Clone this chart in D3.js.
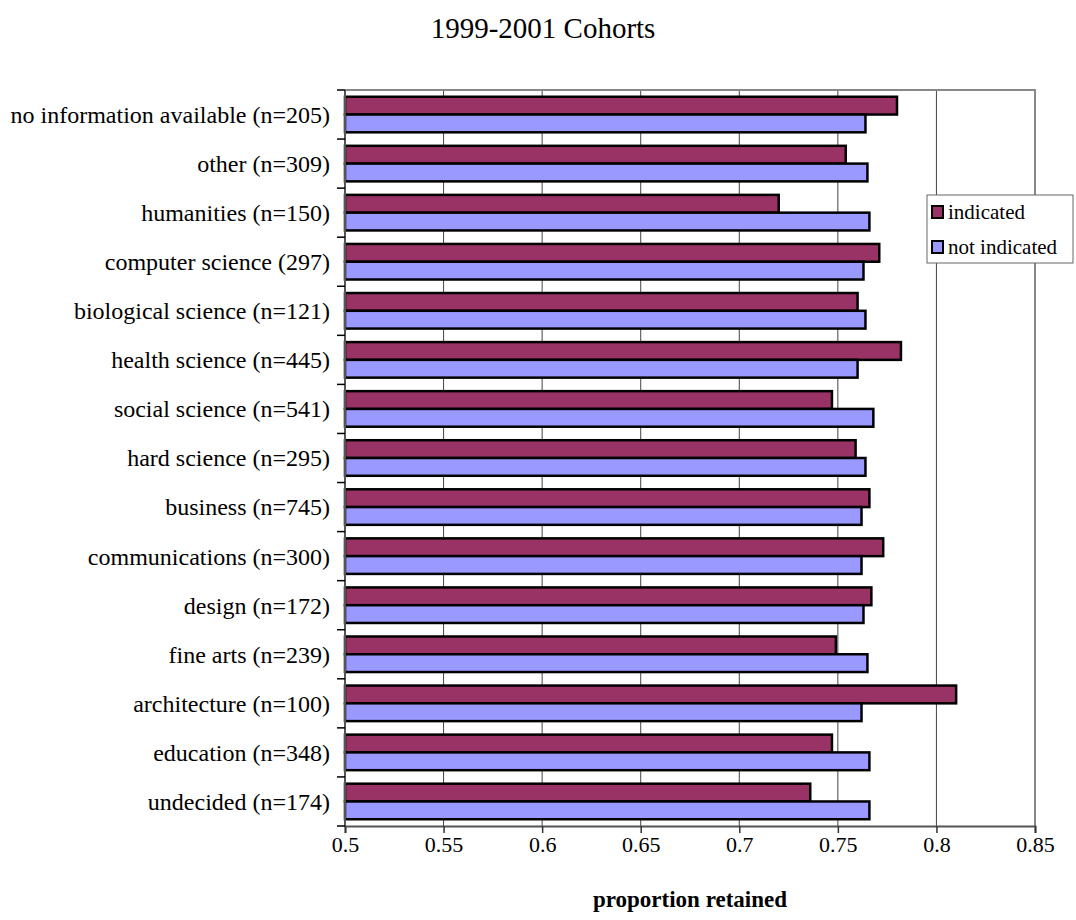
<!DOCTYPE html>
<html>
<head>
<meta charset="utf-8">
<script src="https://cdn.jsdelivr.net/npm/d3@7"></script>
<style>
  html, body { margin: 0; padding: 0; background: #ffffff; }
  svg { display: block; font-family: "Liberation Serif", "Times New Roman", serif; }
</style>
</head>
<body>
<svg id="chart" width="1076" height="920"></svg>
<script>
// Major fields listed top to bottom
const categories = [
  "no information available (n=205)",
  "other (n=309)",
  "humanities (n=150)",
  "computer science (297)",
  "biological science (n=121)",
  "health science (n=445)",
  "social science (n=541)",
  "hard science (n=295)",
  "business (n=745)",
  "communications (n=300)",
  "design (n=172)",
  "fine arts (n=239)",
  "architecture (n=100)",
  "education (n=348)",
  "undecided (n=174)"
];

// Proportion retained, students who indicated the field
const indicated = [0.780, 0.754, 0.720, 0.771, 0.760, 0.782, 0.747, 0.759, 0.766, 0.773, 0.767, 0.749, 0.810, 0.747, 0.736];
// Proportion retained, students who did not indicate the field
const notIndicated = [0.764, 0.765, 0.766, 0.763, 0.764, 0.760, 0.768, 0.764, 0.762, 0.762, 0.763, 0.765, 0.762, 0.766, 0.766];

const xTicks = [0.5, 0.55, 0.6, 0.65, 0.7, 0.75, 0.8, 0.85];
const seriesNames = ["indicated", "not indicated"];
const seriesColors = ["#993366", "#9999ff"];

const svg = d3.select("#chart");
const plot = { left: 345, right: 1035, top: 90, bottom: 826 };

const x = d3.scaleLinear().domain([0.5, 0.85]).range([plot.left, plot.right]);
const y = d3.scaleBand().domain(categories).range([plot.top, plot.bottom]);
const inner = d3.scaleBand().domain(seriesNames)
  .range([0, y.bandwidth()]).paddingOuter(0.38).paddingInner(0);

// Title
svg.append("text")
  .attr("x", 543).attr("y", 38)
  .attr("text-anchor", "middle")
  .attr("font-size", 29)
  .text("1999-2001 Cohorts");

// Vertical gridlines
svg.append("g").selectAll("line")
  .data(xTicks.slice(1, -1))
  .join("line")
  .attr("x1", d => x(d)).attr("x2", d => x(d))
  .attr("y1", plot.top).attr("y2", plot.bottom)
  .attr("stroke", "#444").attr("stroke-width", 1);

// Plot frame (top and right)
svg.append("path")
  .attr("d", `M${plot.left},${plot.top}H${plot.right}V${plot.bottom}`)
  .attr("fill", "none").attr("stroke", "#888").attr("stroke-width", 2);

// Bars
const rows = categories.map((c, i) => ({ c, vals: [indicated[i], notIndicated[i]] }));
const groups = svg.append("g").selectAll("g")
  .data(rows)
  .join("g")
  .attr("transform", d => `translate(0,${y(d.c)})`);

groups.selectAll("rect")
  .data(d => d.vals.map((v, k) => ({ v, k })))
  .join("rect")
  .attr("x", x(0.5))
  .attr("y", d => inner(seriesNames[d.k]))
  .attr("width", d => x(d.v) - x(0.5))
  .attr("height", inner.bandwidth())
  .attr("fill", d => seriesColors[d.k])
  .attr("stroke", "#000")
  .attr("stroke-width", 2.5);

// Bottom axis
const xAxis = svg.append("g")
  .attr("transform", `translate(0,${plot.bottom})`)
  .call(d3.axisBottom(x).tickValues(xTicks).tickFormat(d3.format("")).tickSize(7).tickPadding(3));
xAxis.select(".domain").attr("stroke", "#555").attr("stroke-width", 2);
xAxis.selectAll(".tick line").attr("stroke", "#333").attr("stroke-width", 1.5);
xAxis.selectAll(".tick text")
  .attr("font-family", "Liberation Serif, Times New Roman, serif")
  .attr("font-size", 22).attr("fill", "#000");

// Left axis: ticks sit at category boundaries
const yAxisG = svg.append("g");
yAxisG.append("line")
  .attr("x1", plot.left).attr("x2", plot.left)
  .attr("y1", plot.top).attr("y2", plot.bottom)
  .attr("stroke", "#555").attr("stroke-width", 2);
const boundaries = categories.map(c => y(c)).concat([plot.bottom]);
yAxisG.selectAll("line.tk")
  .data(boundaries)
  .join("line")
  .attr("class", "tk")
  .attr("x1", plot.left - 8).attr("x2", plot.left)
  .attr("y1", d => d).attr("y2", d => d)
  .attr("stroke", "#000").attr("stroke-width", 1.5);
yAxisG.selectAll("text")
  .data(categories)
  .join("text")
  .attr("x", 330)
  .attr("y", d => y(d) + y.bandwidth() / 2)
  .attr("dy", "0.35em")
  .attr("text-anchor", "end")
  .attr("font-size", 24)
  .text(d => d);

// Axis title
svg.append("text")
  .attr("x", 690).attr("y", 907)
  .attr("text-anchor", "middle")
  .attr("font-size", 23)
  .attr("font-weight", "bold")
  .text("proportion retained");

// Legend
const legend = svg.append("g").attr("transform", "translate(927,195)");
legend.append("rect")
  .attr("width", 146).attr("height", 68)
  .attr("fill", "#fff").attr("stroke", "#666").attr("stroke-width", 1);
const items = legend.selectAll("g")
  .data(seriesNames)
  .join("g")
  .attr("transform", (d, i) => `translate(5,${17 + i * 35})`);
items.append("rect")
  .attr("x", 0).attr("y", -6)
  .attr("width", 11).attr("height", 12)
  .attr("fill", (d, i) => seriesColors[i])
  .attr("stroke", "#000").attr("stroke-width", 2);
items.append("text")
  .attr("x", 16).attr("dy", "0.35em")
  .attr("font-size", 21)
  .text(d => d);
</script>
</body>
</html>
